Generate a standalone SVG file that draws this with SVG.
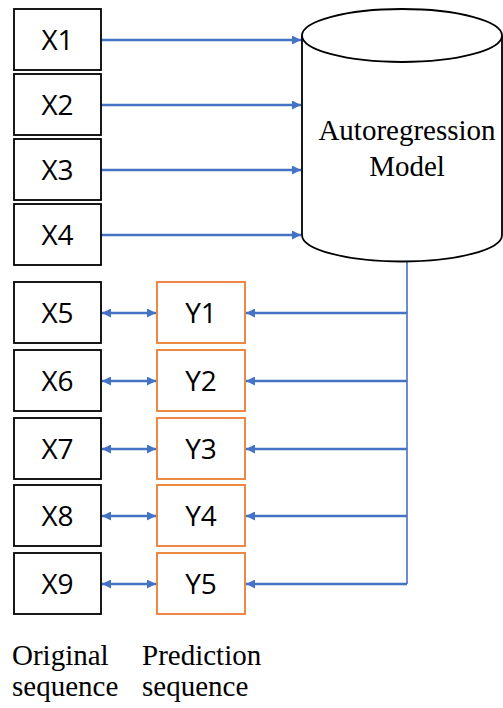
<svg xmlns="http://www.w3.org/2000/svg" width="503" height="708" viewBox="0 0 503 708">
<style>
.xb{fill:#fff;stroke:#000;stroke-width:1.8}
.yb{fill:#fff;stroke:#ED7D31;stroke-width:1.8}
.lbl{font-family:"Open Sans","Liberation Sans",sans-serif;font-size:28px;fill:#000;text-anchor:middle}
.ser{font-family:"Liberation Serif","Times New Roman",serif;font-size:29px;fill:#000}
.c{stroke:#4472C4;stroke-width:2.6;fill:none}
.v{stroke:#4472C4;stroke-width:1.6;fill:none}
</style>
<defs>
<marker id="ah" viewBox="0 0 10 10" refX="10" refY="5" markerWidth="11" markerHeight="9" markerUnits="userSpaceOnUse" orient="auto-start-reverse">
<path d="M0,0 L10,5 L0,10 z" fill="#4472C4"/>
</marker>
</defs>
<g id="connectors">
<line class="c" x1="101" y1="40" x2="301" y2="40" marker-end="url(#ah)"/>
<line class="c" x1="101" y1="105" x2="301" y2="105" marker-end="url(#ah)"/>
<line class="c" x1="101" y1="170" x2="301" y2="170" marker-end="url(#ah)"/>
<line class="c" x1="101" y1="235" x2="301" y2="235" marker-end="url(#ah)"/>
<path class="v" d="M407,262 V584"/>
<line class="c" x1="407" y1="313" x2="246" y2="313" marker-end="url(#ah)"/>
<line class="c" x1="407" y1="381" x2="246" y2="381" marker-end="url(#ah)"/>
<line class="c" x1="407" y1="449" x2="246" y2="449" marker-end="url(#ah)"/>
<line class="c" x1="407" y1="516" x2="246" y2="516" marker-end="url(#ah)"/>
<line class="c" x1="407" y1="584" x2="246" y2="584" marker-end="url(#ah)"/>
<line class="c" x1="102" y1="313" x2="156" y2="313" marker-start="url(#ah)" marker-end="url(#ah)"/>
<line class="c" x1="102" y1="381" x2="156" y2="381" marker-start="url(#ah)" marker-end="url(#ah)"/>
<line class="c" x1="102" y1="449" x2="156" y2="449" marker-start="url(#ah)" marker-end="url(#ah)"/>
<line class="c" x1="102" y1="516" x2="156" y2="516" marker-start="url(#ah)" marker-end="url(#ah)"/>
<line class="c" x1="102" y1="584" x2="156" y2="584" marker-start="url(#ah)" marker-end="url(#ah)"/>
</g>
<g id="model">
<path d="M302,35.5 V235 A100,26.5 0 0 0 502,235 V35.5" fill="#fff" stroke="#000" stroke-width="1.8"/>
<ellipse cx="402" cy="35.5" rx="100" ry="26.5" fill="#fff" stroke="#000" stroke-width="1.8"/>
<text class="ser" x="407" y="140" text-anchor="middle">Autoregression</text>
<text class="ser" x="407" y="176" text-anchor="middle">Model</text>
</g>
<g id="X1"><rect class="xb" x="14" y="9" width="87" height="61"/><text class="lbl" x="57.5" y="50">X1</text></g>
<g id="X2"><rect class="xb" x="14" y="74" width="87" height="61"/><text class="lbl" x="57.5" y="115">X2</text></g>
<g id="X3"><rect class="xb" x="14" y="139" width="87" height="61"/><text class="lbl" x="57.5" y="180">X3</text></g>
<g id="X4"><rect class="xb" x="14" y="204" width="87" height="61"/><text class="lbl" x="57.5" y="245">X4</text></g>
<g id="X5"><rect class="xb" x="14" y="282" width="87" height="61"/><text class="lbl" x="57.5" y="323">X5</text></g>
<g id="X6"><rect class="xb" x="14" y="350" width="87" height="61"/><text class="lbl" x="57.5" y="391">X6</text></g>
<g id="X7"><rect class="xb" x="14" y="418" width="87" height="61"/><text class="lbl" x="57.5" y="459">X7</text></g>
<g id="X8"><rect class="xb" x="14" y="485" width="87" height="61"/><text class="lbl" x="57.5" y="526">X8</text></g>
<g id="X9"><rect class="xb" x="14" y="553" width="87" height="61"/><text class="lbl" x="57.5" y="594">X9</text></g>
<g id="Y1"><rect class="yb" x="157" y="282" width="88" height="61"/><text class="lbl" x="201" y="323">Y1</text></g>
<g id="Y2"><rect class="yb" x="157" y="350" width="88" height="61"/><text class="lbl" x="201" y="391">Y2</text></g>
<g id="Y3"><rect class="yb" x="157" y="418" width="88" height="61"/><text class="lbl" x="201" y="459">Y3</text></g>
<g id="Y4"><rect class="yb" x="157" y="485" width="88" height="61"/><text class="lbl" x="201" y="526">Y4</text></g>
<g id="Y5"><rect class="yb" x="157" y="553" width="88" height="61"/><text class="lbl" x="201" y="594">Y5</text></g>
<g id="captions">
<text class="ser" x="12" y="665">Original</text>
<text class="ser" x="12" y="696">sequence</text>
<text class="ser" x="142" y="665">Prediction</text>
<text class="ser" x="142" y="696">sequence</text>
</g>
</svg>
